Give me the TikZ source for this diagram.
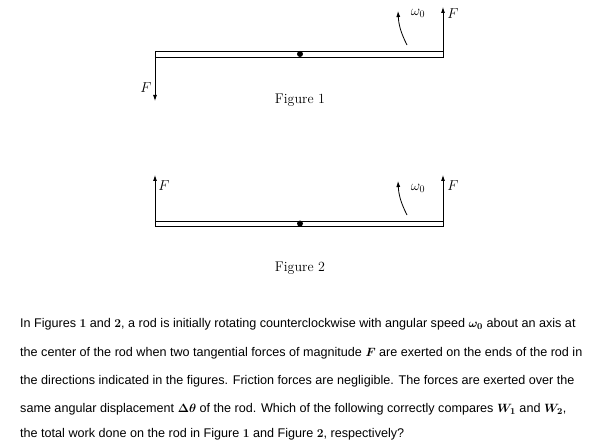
\documentclass[tikz,border=0pt]{standalone}
\usepackage{fontspec}
\setmainfont{Liberation Sans}
\newfontfamily\figfont{Latin Modern Roman}
\usetikzlibrary{arrows.meta}
\begin{document}
\begin{tikzpicture}[x=1pt,y=-1pt,
  rod/.style={draw,fill=white,line width=0.8pt},
  force/.style={-{Latex[length=6pt,width=4pt]},line width=0.8pt},
  lbl/.style={font=\figfont\fontsize{14}{16}\selectfont},
  txt/.style={anchor=west,inner sep=0pt,font=\fontsize{12.6}{14}\selectfont\boldmath}]
\useasboundingbox (0,0) rectangle (608,441);
% Figure 1
\draw[rod] (155,51) rectangle (443,57);
\fill (300,54) circle (3);
\coordinate (l1) at (155,57);
\coordinate (l1e) at (155,101);
\coordinate (r1) at (443,51);
\coordinate (r1e) at (443,7);
\draw[force] (l1) -- (l1e);
\draw[force] (r1) -- (r1e);
\node[lbl] (f1l) at (146,88) {$F$};
\node[lbl] (f1r) at (453,14) {$F$};
\draw[force] (407,45) to[bend left=12] (398,11);
\node[lbl] (w1) at (418,13) {$\omega_0$};
\node[lbl] (cap1) at (300,100) {Figure 1};
% Figure 2
\draw[rod] (155,221) rectangle (443,226);
\fill (300,223.5) circle (3);
\coordinate (l2) at (155,221);
\coordinate (l2e) at (155,175);
\coordinate (r2) at (443,221);
\coordinate (r2e) at (443,175);
\draw[force] (l2) -- (l2e);
\draw[force] (r2) -- (r2e);
\node[lbl] (f2l) at (164,186) {$F$};
\node[lbl] (f2r) at (453,186) {$F$};
\draw[force] (407,215) to[bend left=12] (398,181);
\node[lbl] (w2) at (418,188) {$\omega_0$};
\node[lbl] (cap2) at (300,268) {Figure 2};
% question text
\node[txt] (t1) at (20,324) {In Figures $\mathbf{1}$ and $\mathbf{2}$, a rod is initially rotating counterclockwise with angular speed $\omega_0$ about an axis at};
\node[txt] (t2) at (20,353) {the center of the rod when two tangential forces of magnitude $F$ are exerted on the ends of the rod in};
\node[txt] (t3) at (20,381) {the directions indicated in the figures. Friction forces are negligible. The forces are exerted over the};
\node[txt] (t4) at (20,409) {same angular displacement $\Delta\theta$ of the rod. Which of the following correctly compares $W_1$ and $W_2$,};
\node[txt] (t5) at (20,434) {the total work done on the rod in Figure $\mathbf{1}$ and Figure $\mathbf{2}$, respectively?};
\end{tikzpicture}
\end{document}
